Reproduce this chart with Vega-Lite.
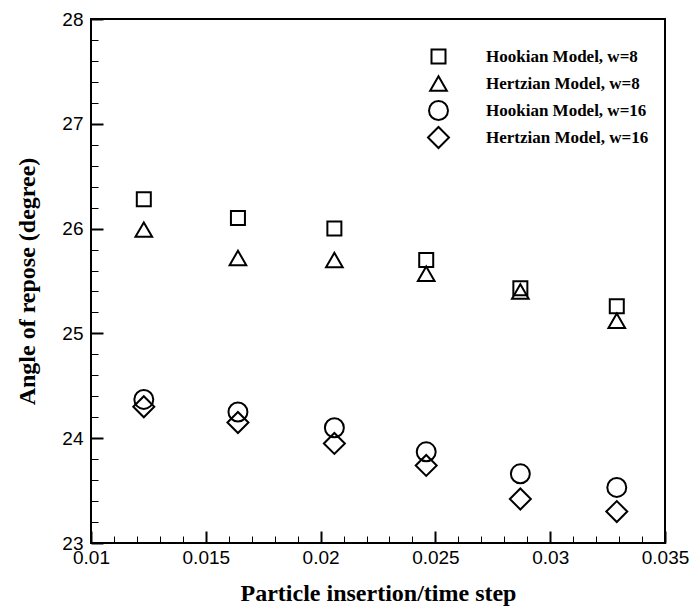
{
  "$schema": "https://vega.github.io/schema/vega-lite/v6.json",
  "autosize": {"type": "none"},
  "padding": {"left": 91, "top": 19, "right": 29, "bottom": 66},
  "width": 574,
  "height": 524,
  "background": "white",
  "config": {
    "view": {"stroke": "black", "strokeWidth": 2},
    "axis": {
      "grid": false,
      "domain": false,
      "labelFont": "Liberation Sans",
      "labelFontSize": 19,
      "labelColor": "black",
      "titleFont": "Liberation Serif",
      "titleFontWeight": "bold",
      "titleFontSize": 24,
      "titleColor": "black",
      "tickColor": "black"
    },
    "legend": {
      "orient": "none",
      "legendX": 336,
      "legendY": 29,
      "padding": 0,
      "gridAlign": "all",
      "labelFont": "Liberation Serif",
      "labelFontWeight": "bold",
      "labelFontSize": 17,
      "labelColor": "black",
      "labelLimit": 400,
      "labelOffset": 36,
      "rowPadding": -4,
      "symbolStrokeWidth": 2,
      "symbolStrokeColor": "black",
      "symbolFillColor": "transparent"
    }
  },
  "data": {
    "values": [
      {"x": 0.0123, "y": 26.28, "series": "Hookian Model, w=8"},
      {"x": 0.0164, "y": 26.10, "series": "Hookian Model, w=8"},
      {"x": 0.0206, "y": 26.00, "series": "Hookian Model, w=8"},
      {"x": 0.0246, "y": 25.70, "series": "Hookian Model, w=8"},
      {"x": 0.0287, "y": 25.43, "series": "Hookian Model, w=8"},
      {"x": 0.0329, "y": 25.26, "series": "Hookian Model, w=8"},
      {"x": 0.0123, "y": 25.99, "series": "Hertzian Model, w=8"},
      {"x": 0.0164, "y": 25.72, "series": "Hertzian Model, w=8"},
      {"x": 0.0206, "y": 25.70, "series": "Hertzian Model, w=8"},
      {"x": 0.0246, "y": 25.57, "series": "Hertzian Model, w=8"},
      {"x": 0.0287, "y": 25.40, "series": "Hertzian Model, w=8"},
      {"x": 0.0329, "y": 25.12, "series": "Hertzian Model, w=8"},
      {"x": 0.0123, "y": 24.37, "series": "Hookian Model, w=16"},
      {"x": 0.0164, "y": 24.25, "series": "Hookian Model, w=16"},
      {"x": 0.0206, "y": 24.10, "series": "Hookian Model, w=16"},
      {"x": 0.0246, "y": 23.87, "series": "Hookian Model, w=16"},
      {"x": 0.0287, "y": 23.66, "series": "Hookian Model, w=16"},
      {"x": 0.0329, "y": 23.53, "series": "Hookian Model, w=16"},
      {"x": 0.0123, "y": 24.30, "series": "Hertzian Model, w=16"},
      {"x": 0.0164, "y": 24.15, "series": "Hertzian Model, w=16"},
      {"x": 0.0206, "y": 23.95, "series": "Hertzian Model, w=16"},
      {"x": 0.0246, "y": 23.74, "series": "Hertzian Model, w=16"},
      {"x": 0.0287, "y": 23.42, "series": "Hertzian Model, w=16"},
      {"x": 0.0329, "y": 23.30, "series": "Hertzian Model, w=16"}
    ]
  },
  "mark": {"type": "point", "filled": false, "stroke": "black", "strokeWidth": 2, "opacity": 1},
  "encoding": {
    "x": {
      "field": "x",
      "type": "quantitative",
      "scale": {"domain": [0.01, 0.035], "nice": false, "zero": false},
      "axis": {
        "title": "Particle insertion/time step",
        "values": [0.01, 0.011, 0.012, 0.013, 0.014, 0.015, 0.016, 0.017, 0.018, 0.019, 0.02, 0.021, 0.022, 0.023, 0.024, 0.025, 0.026, 0.027, 0.028, 0.029, 0.03, 0.031, 0.032, 0.033, 0.034, 0.035],
        "labelExpr": "abs(datum.value*200 - round(datum.value*200)) < 0.001 ? format(datum.value, '.3~f') : ''",
        "tickSize": {"condition": {"test": "abs(datum.value*200 - round(datum.value*200)) < 0.001", "value": -12}, "value": -7},
        "tickWidth": {"condition": {"test": "abs(datum.value*200 - round(datum.value*200)) < 0.001", "value": 2}, "value": 1},
        "labelPadding": 17,
        "labelOverlap": false,
        "labelFlush": false,
        "titlePadding": 9
      }
    },
    "y": {
      "field": "y",
      "type": "quantitative",
      "scale": {"domain": [23, 28], "nice": false, "zero": false},
      "axis": {
        "title": "Angle of repose (degree)",
        "values": [23, 23.2, 23.4, 23.6, 23.8, 24, 24.2, 24.4, 24.6, 24.8, 25, 25.2, 25.4, 25.6, 25.8, 26, 26.2, 26.4, 26.6, 26.8, 27, 27.2, 27.4, 27.6, 27.8, 28],
        "labelExpr": "abs(datum.value - round(datum.value)) < 0.01 ? format(datum.value, 'd') : ''",
        "tickSize": {"condition": {"test": "abs(datum.value - round(datum.value)) < 0.01", "value": -12}, "value": -7},
        "tickWidth": {"condition": {"test": "abs(datum.value - round(datum.value)) < 0.01", "value": 2}, "value": 1},
        "labelPadding": 20,
        "labelOverlap": false,
        "labelFlush": false,
        "titlePadding": 22
      }
    },
    "shape": {
      "field": "series",
      "type": "nominal",
      "title": null,
      "scale": {
        "domain": ["Hookian Model, w=8", "Hertzian Model, w=8", "Hookian Model, w=16", "Hertzian Model, w=16"],
        "range": ["square", "triangle-up", "circle", "diamond"]
      }
    },
    "size": {
      "field": "series",
      "type": "ordinal",
      "title": null,
      "scale": {
        "domain": ["Hookian Model, w=8", "Hertzian Model, w=8", "Hookian Model, w=16", "Hertzian Model, w=16"],
        "range": [196, 441]
      }
    }
  }
}
